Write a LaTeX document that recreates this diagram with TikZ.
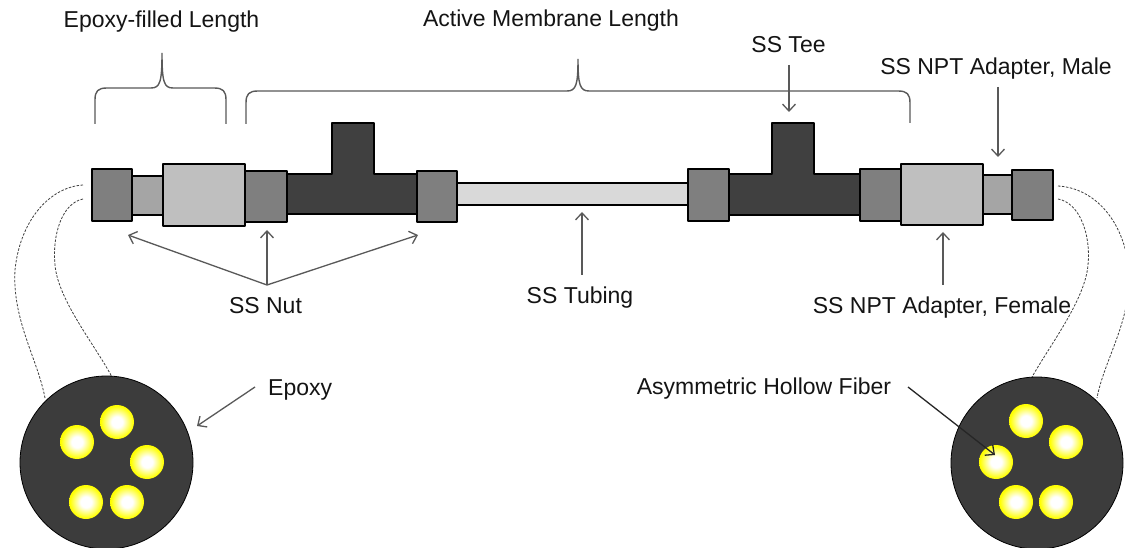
\documentclass[tikz,border=0pt]{standalone}
\usepackage{fontspec}
\setmainfont{Liberation Sans}
\usetikzlibrary{arrows.meta}
\definecolor{nutgray}{HTML}{7F7F7F}
\definecolor{pipegray}{HTML}{A5A5A5}
\definecolor{adaptgray}{HTML}{BFBFBF}
\definecolor{teegray}{HTML}{404040}
\definecolor{tubegray}{HTML}{D9D9D9}
\definecolor{leadgray}{HTML}{595959}
\definecolor{epoxygray}{HTML}{3C3C3C}
\definecolor{fiberyellow}{HTML}{FFFF00}
% hollow fibre cross-section: white bore fading into the yellow wall
\pgfdeclareradialshading{fibershade}{\pgfpoint{0bp}{0bp}}{color(0bp)=(white); color(8bp)=(white); color(24bp)=(fiberyellow); color(50bp)=(fiberyellow)}

\begin{document}
\begin{tikzpicture}[x=1pt,y=-1pt,
  part/.style={draw=black, line width=2.8pt, line join=round},
  lead/.style={draw=leadgray, line width=1.3pt, -{Straight Barb[length=7pt,width=13pt]}},
  darklead/.style={draw=black!85, line width=1.3pt, -{Straight Barb[length=7pt,width=13pt]}},
  brace/.style={draw=leadgray, line width=1.4pt},
  tether/.style={draw=black!75, line width=0.8pt, dash pattern=on 2.5pt off 1.5pt},
  label/.style={inner sep=0pt, anchor=base, font=\fontsize{23}{27}\selectfont, text=black!92},
  bundle/.style={draw=black, line width=0.8pt, fill=epoxygray},
  fiber/.style={shading=fibershade}
]
\clip (0,0) rectangle (1125,548);
\fill[white] (0,0) rectangle (1125,548);

% ---------- dashed tethers from the module ends to the cross-sections
\draw[tether] (83,185) .. controls (50,187) and (20,220) .. (15,270) .. controls (12,320) and (38,360) .. (45,398);
\draw[tether] (83,199) .. controls (62,203) and (52,235) .. (55,265) .. controls (58,300) and (95,345) .. (112,377);
\draw[tether] (1058,186) .. controls (1094,188) and (1124,220) .. (1129,270) .. controls (1132,320) and (1104,360) .. (1097,398);
\draw[tether] (1058,199) .. controls (1080,203) and (1091,235) .. (1088,265) .. controls (1085,300) and (1050,345) .. (1032,377);

% ---------- module body, left half
\draw[part, fill=tubegray] (457,183) rectangle (688,205);
\draw[part, fill=pipegray] (132,176) rectangle (163,215);
\draw[part, fill=nutgray] (92,169) rectangle (132,221);
\draw[part, fill=adaptgray] (163,164) rectangle (245,226);
\draw[part, fill=teegray] (287,174) -- (332,174) -- (332,123) -- (374,123) -- (374,174) -- (417,174) -- (417,214) -- (287,214) -- cycle;
\draw[part, fill=nutgray] (245,171) rectangle (287,222);
\draw[part, fill=nutgray] (417,171) rectangle (457,222);

% ---------- module body, right half
\draw[part, fill=pipegray] (983,175) rectangle (1012,214);
\draw[part, fill=teegray] (729,174) -- (772,174) -- (772,123) -- (814,123) -- (814,174) -- (860,174) -- (860,215) -- (729,215) -- cycle;
\draw[part, fill=nutgray] (688,169) rectangle (729,221);
\draw[part, fill=nutgray] (860,169) rectangle (901,221);
\draw[part, fill=adaptgray] (901,164) rectangle (983,225);
\draw[part, fill=nutgray] (1012,170) rectangle (1053,220);

% ---------- potted cross-sections
\draw[bundle] (106.5,462.5) circle[radius=86.5];
\foreach \px/\py in {117/422, 77/442, 147/462, 86/502, 127/502}
  \shade[fiber] (\px,\py) circle[radius=17];
\draw[bundle] (1037,463) circle[radius=86];
\foreach \px/\py in {1026/421, 1066/442, 996/462, 1016/502, 1056/502}
  \shade[fiber] (\px,\py) circle[radius=17];

% ---------- length braces
\draw[brace] (95,124) -- (95,100) .. controls (95,91) and (98,88) .. (107,88) -- (151,88) .. controls (160,88) and (162,82) .. (162,53) .. controls (162,82) and (164,88) .. (173,88) -- (214,88) .. controls (223,88) and (226,91) .. (226,100) -- (226,124);
\draw[brace] (246,124) -- (246,103) .. controls (246,94) and (249,91) .. (258,91) -- (567,91) .. controls (576,91) and (578,85) .. (578,59) .. controls (578,85) and (580,91) .. (589,91) -- (898,91) .. controls (907,91) and (910,94) .. (910,103) -- (910,123);

% ---------- labels
\node[label] (epoxylen) at (161.5,28) {Epoxy-filled Length};
\node[label] (activelen) at (551,27) {Active Membrane Length};
\node[label] (tee) at (788.5,53) {SS Tee};
\node[label] (male) at (996,75) {SS NPT Adapter, Male};
\node[label] (nut) at (265.5,313) {SS Nut};
\node[label] (tubing) at (580,303) {SS Tubing};
\node[label] (female) at (942,313) {SS NPT Adapter, Female};
\node[label, anchor=base west] (epoxy) at (268,395) {Epoxy};
\node[label] (fiber) at (764,394) {Asymmetric Hollow Fiber};

% ---------- leader ends
\coordinate (teetail) at (789,65);
\coordinate (teetip) at (789,112);
\coordinate (maletail) at (998,87);
\coordinate (maletip) at (998,157);
\coordinate (nutfork) at (267,285);
\coordinate (nuttipA) at (128,235);
\coordinate (nuttipB) at (267,230);
\coordinate (nuttipC) at (418,235);
\coordinate (tubetail) at (582,275);
\coordinate (tubetip) at (582,212);
\coordinate (femtail) at (943,285);
\coordinate (femtip) at (943,232);
\coordinate (epoxytail) at (255,387);
\coordinate (epoxytip) at (197,426);
\coordinate (fibertail) at (908,387);
\coordinate (fibertip) at (995,455);

% ---------- leaders
\draw[lead] (teetail) -- (teetip);
\draw[lead] (maletail) -- (maletip);
\draw[lead] (nutfork) -- (nuttipA);
\draw[lead] (nutfork) -- (nuttipB);
\draw[lead] (nutfork) -- (nuttipC);
\draw[lead] (tubetail) -- (tubetip);
\draw[lead] (femtail) -- (femtip);
\draw[lead] (epoxytail) -- (epoxytip);
\draw[darklead] (fibertail) -- (fibertip);
\end{tikzpicture}
\end{document}
